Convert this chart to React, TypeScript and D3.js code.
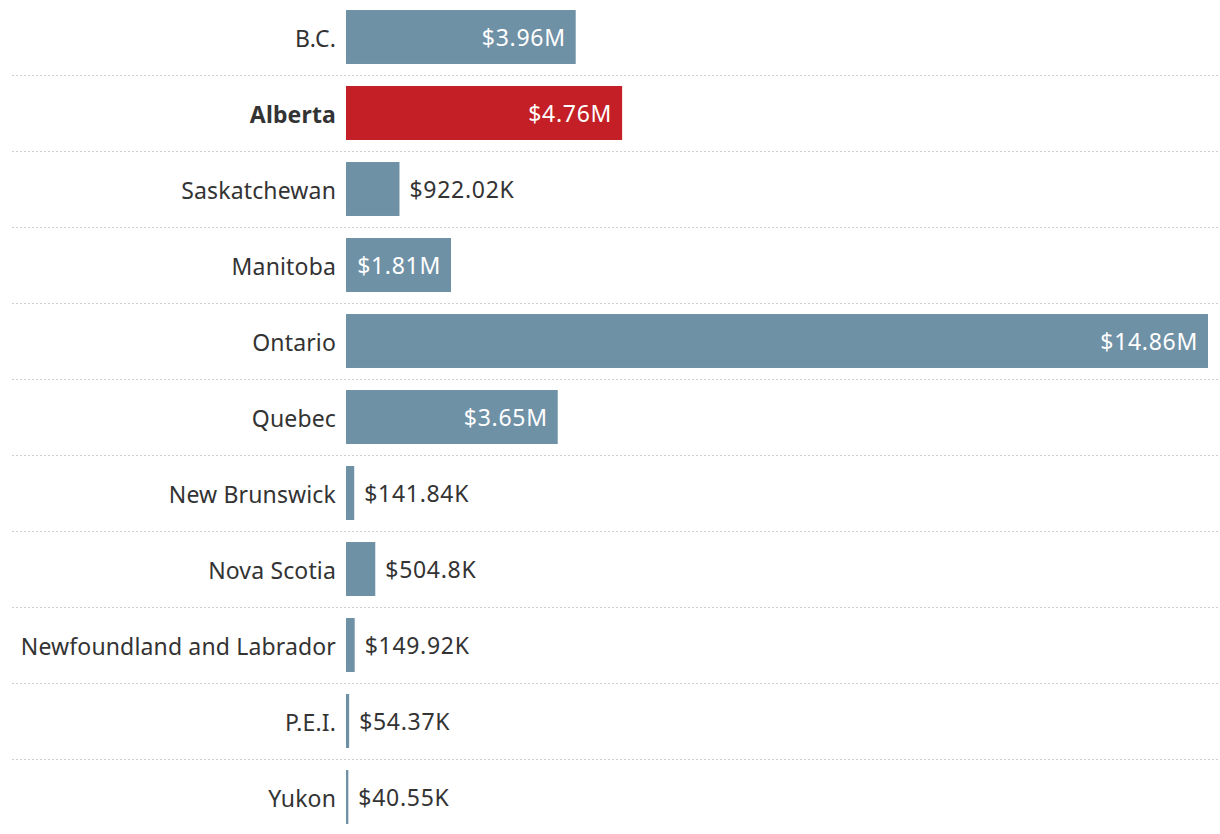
import { useEffect, useRef } from 'react';
import * as d3 from 'd3';

const provinces = [
  'B.C.',
  'Alberta',
  'Saskatchewan',
  'Manitoba',
  'Ontario',
  'Quebec',
  'New Brunswick',
  'Nova Scotia',
  'Newfoundland and Labrador',
  'P.E.I.',
  'Yukon',
];

const amounts = [
  3960000, 4760000, 922020, 1810000, 14860000, 3650000, 141840, 504800, 149920, 54370, 40550,
];

const valueLabels = [
  '$3.96M', '$4.76M', '$922.02K', '$1.81M', '$14.86M', '$3.65M',
  '$141.84K', '$504.8K', '$149.92K', '$54.37K', '$40.55K',
];

const highlighted = 'Alberta';

export default function App() {
  const ref = useRef<SVGSVGElement | null>(null);

  useEffect(() => {
    if (!ref.current) return;
    const svg = d3.select(ref.current);
    svg.selectAll('*').remove();

    const width = 1220;
    const height = 834;
    const barLeft = 346;
    const barRight = 1208;
    const font = '"Noto Sans", "Open Sans", sans-serif';

    const rows = provinces.map((name, i) => ({ name, value: amounts[i], label: valueLabels[i] }));

    const y = d3.scaleBand<string>().domain(provinces).range([-1, 835]).paddingInner(0.29).paddingOuter(0.145);
    const x = d3.scaleLinear().domain([0, d3.max(amounts) as number]).range([barLeft, barRight]);
    const step = y.step();

    // dotted separators between rows
    svg.append('g')
      .selectAll('line')
      .data(provinces.slice(0, -1))
      .join('line')
      .attr('x1', 12)
      .attr('x2', width)
      .attr('y1', (d) => Math.round((y(d) as number) + y.bandwidth() / 2 + step / 2) + 0.5)
      .attr('y2', (d) => Math.round((y(d) as number) + y.bandwidth() / 2 + step / 2) + 0.5)
      .attr('stroke', '#cfcfcf')
      .attr('stroke-width', 1.2)
      .attr('stroke-dasharray', '2,2');

    const g = svg.append('g')
      .selectAll('g')
      .data(rows)
      .join('g')
      .attr('transform', (d) => `translate(0,${y(d.name)})`);

    g.append('rect')
      .attr('x', x(0))
      .attr('y', 0)
      .attr('width', (d) => Math.max(1.5, x(d.value) - x(0)))
      .attr('height', y.bandwidth())
      .attr('fill', (d) => (d.name === highlighted ? '#c41f26' : '#6f91a6'));

    g.append('text')
      .attr('x', barLeft - 10)
      .attr('y', y.bandwidth() / 2 + 2)
      .attr('dy', '0.35em')
      .attr('text-anchor', 'end')
      .attr('font-family', font)
      .attr('font-size', 23)
      .attr('letter-spacing', 0.15)
      .attr('font-weight', (d) => (d.name === highlighted ? 700 : 400))
      .attr('fill', '#333')
      .text((d) => d.name);

    g.append('text')
      .each(function (d) {
        const w = x(d.value) - x(0);
        const inside = w > 100;
        d3.select(this)
          .attr('x', inside ? x(d.value) - 10 : x(d.value) + 10)
          .attr('text-anchor', inside ? 'end' : 'start')
          .attr('fill', inside ? '#fff' : '#333');
      })
      .attr('y', y.bandwidth() / 2 + 1)
      .attr('dy', '0.35em')
      .attr('font-family', font)
      .attr('font-size', 23)
      .attr('letter-spacing', 0.7)
      .text((d) => d.label);

    svg.attr('width', width).attr('height', height);
  }, []);

  return (
    <svg
      ref={ref}
      width={1220}
      height={834}
      style={{ position: 'absolute', left: 0, top: 0, background: '#fff' }}
    />
  );
}
